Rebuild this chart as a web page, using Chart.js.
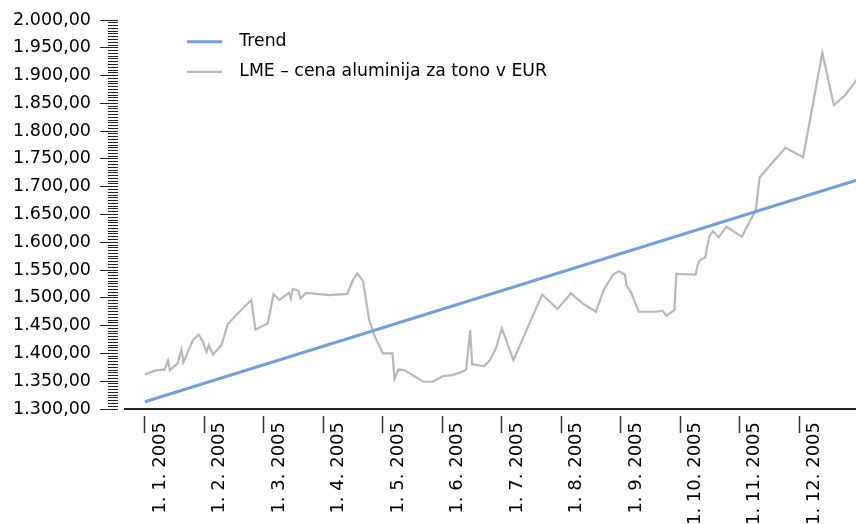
<!DOCTYPE html>
<html><head><meta charset="utf-8">
<script src="https://cdn.jsdelivr.net/npm/chart.js@4/dist/chart.umd.min.js"></script>
<style>html,body{margin:0;padding:0;background:#fff;}canvas{display:block;}</style>
</head><body>
<canvas id="c" width="856" height="524"></canvas>
<script>
const seriesLabels = ['Trend', 'LME – cena aluminija za tono v EUR'];
const xTickLabels = ['1. 1. 2005','1. 2. 2005','1. 3. 2005','1. 4. 2005','1. 5. 2005','1. 6. 2005',
  '1. 7. 2005','1. 8. 2005','1. 9. 2005','1. 10. 2005','1. 11. 2005','1. 12. 2005'];
const lmeDates = [
 '2005-01-01','2005-01-06','2005-01-10','2005-01-11','2005-01-13','2005-01-14','2005-01-18','2005-01-20',
 '2005-01-21','2005-01-26','2005-01-29','2005-01-31','2005-02-02','2005-02-03','2005-02-05','2005-02-09',
 '2005-02-12','2005-02-16','2005-02-23','2005-02-25','2005-03-03','2005-03-06','2005-03-09','2005-03-14',
 '2005-03-15','2005-03-16','2005-03-19','2005-03-20','2005-03-23','2005-04-04','2005-04-13','2005-04-16',
 '2005-04-18','2005-04-21','2005-04-24','2005-04-27','2005-05-01','2005-05-06','2005-05-07','2005-05-09',
 '2005-05-12','2005-05-17','2005-05-22','2005-05-27','2005-06-01','2005-06-06','2005-06-11','2005-06-13',
 '2005-06-15','2005-06-16','2005-06-22','2005-06-25','2005-06-28','2005-07-01','2005-07-07','2005-07-22',
 '2005-07-30','2005-08-06','2005-08-12','2005-08-19','2005-08-23','2005-08-28','2005-08-31','2005-09-03',
 '2005-09-04','2005-09-06','2005-09-10','2005-09-19','2005-09-22','2005-09-24','2005-09-28','2005-09-29',
 '2005-10-09','2005-10-10','2005-10-11','2005-10-14','2005-10-16','2005-10-18','2005-10-21','2005-10-25',
 '2005-11-02','2005-11-09','2005-11-11','2005-11-24','2005-12-03','2005-12-13','2005-12-19','2005-12-25',
 '2005-12-31'];
const lmeValues = [
 1362,1369,1371,1370,1387,1370,1382,1407,
 1384,1424,1434,1422,1403,1415,1398,1415,
 1453,1469,1496,1443,1454,1507,1496,1509,
 1499,1516,1513,1499,1509,1505,1507,1533,
 1544,1530,1461,1430,1400,1400,1354,1371,
 1370,1360,1349,1349,1359,1361,1367,1371,
 1442,1381,1377,1388,1409,1445,1388,1506,
 1480,1508,1490,1475,1514,1542,1548,1542,
 1521,1511,1475,1475,1477,1468,1478,1543,
 1542,1559,1567,1573,1610,1620,1609,1628,
 1610,1658,1717,1770,1753,1941,1847,1865,
 1893];
const trendDates = ['2005-01-01', '2005-12-31'];
const trendValues = [1313, 1712];

function monthPos(s) {
  const p = s.split('-').map(Number);
  const dim = new Date(p[0], p[1], 0).getDate();
  return (p[1] - 1) + (p[2] - 1) / dim;
}
function fmt(v) {
  const s = v.toFixed(2).split('.');
  return s[0].replace(/\B(?=(\d{3})+(?!\d))/g, '.') + ',' + s[1];
}
const toPts = (ds, vs) => ds.map((d, i) => ({x: monthPos(d), y: vs[i]}));

Chart.defaults.font.family = 'DejaVu Sans';
Chart.defaults.font.size = 17;
Chart.defaults.color = '#000';

const legendPlace = {
  id: 'legendPlace',
  beforeDraw(chart) {
    const lg = chart.legend;
    if (!lg) return;
    lg.left = chart.chartArea.left + 49;
    lg.right = lg.left + lg.width;
    lg.top = chart.chartArea.top;
    lg.bottom = chart.chartArea.bottom;
  }
};

new Chart(document.getElementById('c'), {
  type: 'line',
  data: {
    datasets: [
      {label: seriesLabels[0], data: toPts(trendDates, trendValues), borderColor: '#779ed0', backgroundColor: '#779ed0', borderWidth: 3, pointRadius: 0, tension: 0},
      {label: seriesLabels[1], data: toPts(lmeDates, lmeValues), borderColor: '#b8b8b8', backgroundColor: '#b8b8b8', borderWidth: 2.2, pointRadius: 0, tension: 0}
    ]
  },
  options: {
    responsive: false,
    animation: false,
    devicePixelRatio: 1,
    layout: {padding: {top: 20, left: 0, right: 0, bottom: 0}},
    plugins: {
      tooltip: {enabled: false},
      legend: {
        position: 'chartArea',
        align: 'start',
        labels: {
          usePointStyle: true,
          pointStyle: 'line',
          pointStyleWidth: 35,
          padding: 13,
          color: '#000',
          font: {size: 17.3},
          generateLabels(chart) {
            const items = Chart.defaults.plugins.legend.labels.generateLabels(chart);
            items.forEach(it => { it.text = '\u2002' + it.text; });
            return items;
          }
        }
      }
    },
    scales: {
      x: {
        type: 'linear',
        min: -0.336,
        max: 11.953,
        afterBuildTicks(scale) { scale.ticks = xTickLabels.map((l, i) => ({value: i})); },
        afterFit(scale) { scale.height = 115; },
        ticks: {
          autoSkip: false, minRotation: 90, maxRotation: 90, padding: -11, labelOffset: 15,
          color: '#000', font: {size: 18},
          callback: (v, i) => xTickLabels[i]
        },
        grid: {drawOnChartArea: false, drawTicks: true, tickLength: 24, tickColor: '#333', tickWidth: 1.5, tickBorderDash: [0, 6, 100]},
        border: {display: true, color: '#222', width: 2}
      },
      y: {
        type: 'linear',
        min: 1300,
        max: 2000,
        afterBuildTicks(scale) { const t = []; for (let v = 1300; v <= 2000; v += 5) t.push({value: v}); scale.ticks = t; },
        afterFit(scale) { scale.width = 125; },
        ticks: {
          autoSkip: false, padding: 9, color: '#000', font: {size: 17.5},
          callback: (v) => (v % 50 === 0 ? fmt(v) : '')
        },
        grid: {
          drawOnChartArea: false, drawTicks: true, tickLength: 25, tickColor: '#222', tickWidth: 1,
          tickBorderDash: (ctx) => (ctx.tick && ctx.tick.value % 50 === 0 ? [18, 100] : [0, 8, 10, 100])
        },
        border: {display: false}
      }
    }
  },
  plugins: [legendPlace]
});
</script>
</body></html>
